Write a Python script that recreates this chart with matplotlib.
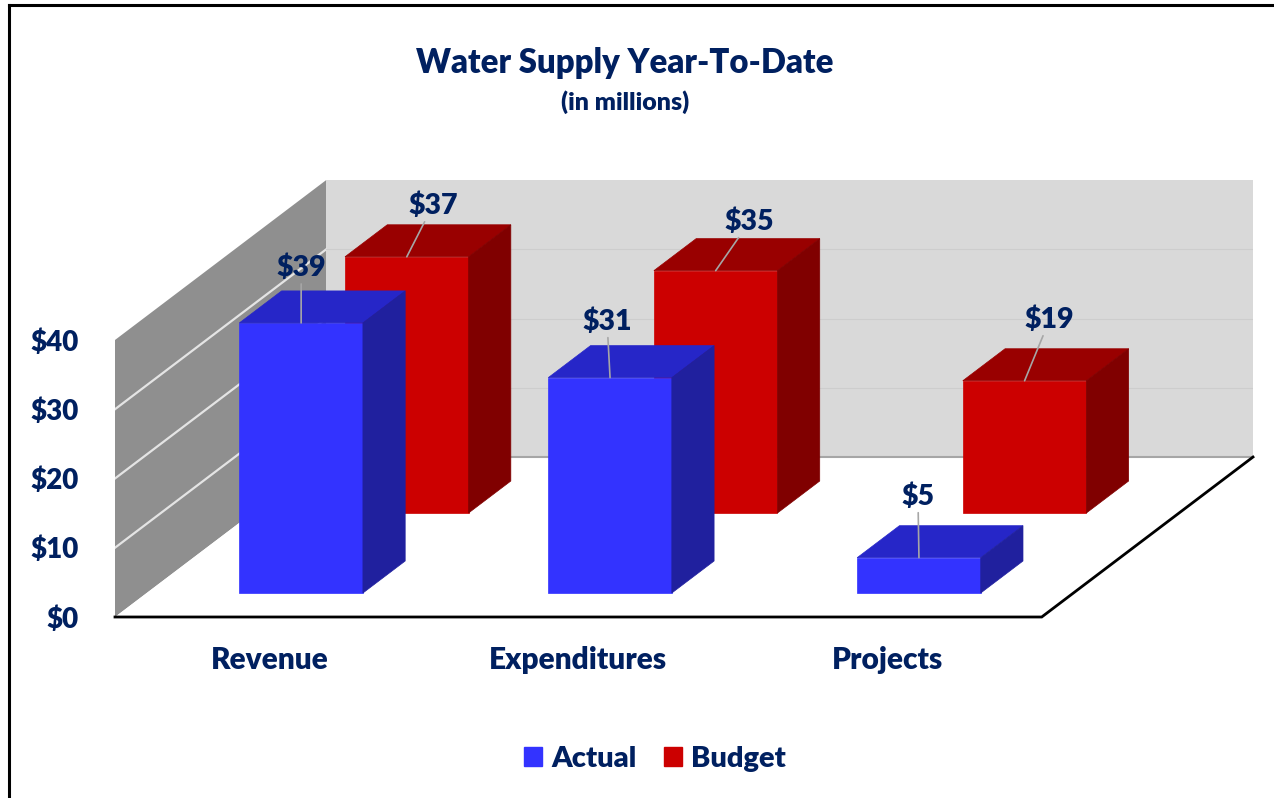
import matplotlib
matplotlib.use('Agg')
import matplotlib.pyplot as plt
from matplotlib.patches import Polygon, Patch
from matplotlib.lines import Line2D

# --- data (in millions) ---
categories = ['Revenue', 'Expenditures', 'Projects']
actual = [39.0, 31.1, 5.1]
budget = [37.0, 35.0, 19.1]
series_names = ['Actual', 'Budget']
y_ticks = [0, 10, 20, 30, 40]
y_tick_labels = ['$0', '$10', '$20', '$30', '$40']

# styling
front_colors = ['#3333FF', '#CC0000']
top_colors = ['#2626C8', '#990000']
side_colors = ['#20209E', '#800000']
NAVY = '#002060'

# data label offsets (pixels) from the front top edge of each bar
label_offsets = [
    [(0, 55), (-3, 56), (-1, 61)],
    [(26, 51), (34, 49), (25, 61)],
]

plt.rcParams['font.family'] = ['Lato', 'DejaVu Sans']
plt.rcParams['font.weight'] = 'heavy'

# fake 3D : oblique projection, depth d in [0, 1]
DX, DY = 0.684, 23.1
YMAX = 40
BAR_W = 0.4
BAR_D = 0.2


def proj(x, y, d):
    return (x + d * DX, y + d * DY)


def face(pts):
    return [proj(*p) for p in pts]


fig = plt.figure(figsize=(12.74, 7.98), dpi=100)
ax = fig.add_axes([115 / 1274, 181 / 798, 1138 / 1274, 437 / 798])
n = len(categories)
ax.set_xlim(0, n + DX)
ax.set_ylim(0, YMAX + DY)
ax.set_facecolor('none')
for sp in ax.spines.values():
    sp.set_visible(False)

# walls + floor
ax.add_patch(Polygon(face([(0, 0, 0), (0, 0, 1), (0, YMAX, 1), (0, YMAX, 0)]),
                     closed=True, fc='#8F8F8F', ec='none', zorder=0))
ax.add_patch(Polygon(face([(0, 0, 1), (n, 0, 1), (n, YMAX, 1), (0, YMAX, 1)]),
                     closed=True, fc='#D9D9D9', ec='none', zorder=0))
ax.add_patch(Polygon(face([(0, 0, 0), (n, 0, 0), (n, 0, 1), (0, 0, 1)]),
                     closed=True, fc='white', ec='none', zorder=0))

for v in y_ticks[1:-1]:
    p0, p1, p2 = proj(0, v, 0), proj(0, v, 1), proj(n, v, 1)
    ax.plot([p0[0], p1[0]], [p0[1], p1[1]], color='#E4E4E4', lw=1.6, zorder=0.5)
    ax.plot([p1[0], p2[0]], [p1[1], p2[1]], color='#CDCDCD', lw=0.8, zorder=0.5)

b0, b1 = proj(0, 0, 1), proj(n, 0, 1)
ax.plot([b0[0], b1[0]], [b0[1], b1[1]], color='#A6A6A6', lw=1.5, zorder=0.5)
edge = [proj(0, 0, 0), proj(n, 0, 0), proj(n, 0, 1)]
ax.plot([p[0] for p in edge], [p[1] for p in edge], color='black', lw=2,
        solid_joinstyle='miter', clip_on=False, zorder=0.6)

# bars, back row first
all_vals = [actual, budget]
for s in reversed(range(len(all_vals))):
    vals = all_vals[s]
    rc = (s + 0.5) / len(all_vals)
    d0, d1 = rc - BAR_D / 2, rc + BAR_D / 2
    for i, v in enumerate(vals):
        cx = i + 0.5
        x0, x1 = cx - BAR_W / 2, cx + BAR_W / 2
        front = face([(x0, 0, d0), (x1, 0, d0), (x1, v, d0), (x0, v, d0)])
        top = face([(x0, v, d0), (x1, v, d0), (x1, v, d1), (x0, v, d1)])
        side = face([(x1, 0, d0), (x1, 0, d1), (x1, v, d1), (x1, v, d0)])
        for pts, c in [(front, front_colors[s]), (top, top_colors[s]), (side, side_colors[s])]:
            ax.add_patch(Polygon(pts, closed=True, fc=c, ec=c, lw=0.5, zorder=2))
        ax.annotate(f'${v:.0f}', xy=proj(cx, v, d0), xytext=label_offsets[s][i],
                    textcoords='offset pixels', ha='center', va='center',
                    fontsize=20.5, color=NAVY, zorder=4,
                    arrowprops=dict(arrowstyle='-', color='#A6A6A6', lw=1.2,
                                    shrinkA=0, shrinkB=0))

ax.set_xticks([i + 0.5 for i in range(n)], categories)
ax.set_yticks(y_ticks, y_tick_labels)
ax.tick_params(axis='both', length=0, colors=NAVY)
ax.tick_params(axis='x', pad=21, labelsize=21.5)
ax.tick_params(axis='y', pad=26, labelsize=20)

fig.text(625 / 1274, 1 - 63 / 798, 'Water Supply Year-To-Date', ha='center', va='center',
         fontsize=23.7, color=NAVY)
fig.text(625 / 1274, 1 - 102 / 798, '(in millions)', ha='center', va='center',
         fontsize=18, color=NAVY)

handles = [Patch(color=c) for c in front_colors]
fig.legend(handles, series_names, loc='center', bbox_to_anchor=(655 / 1274, 1 - 759 / 798),
           ncol=2, frameon=False, fontsize=21, handlelength=0.62, handleheight=0.62,
           handletextpad=0.3, columnspacing=0.95, labelcolor=NAVY)

# chart border (only left and top edges visible)
fig.add_artist(Line2D([9 / 1274, 9 / 1274], [0, 1 - 5 / 798], transform=fig.transFigure,
                      color='black', lw=2.2))
fig.add_artist(Line2D([9 / 1274, 1], [1 - 5 / 798, 1 - 5 / 798], transform=fig.transFigure,
                      color='black', lw=2.2))

fig.savefig('out.png', dpi=100, facecolor='white')
